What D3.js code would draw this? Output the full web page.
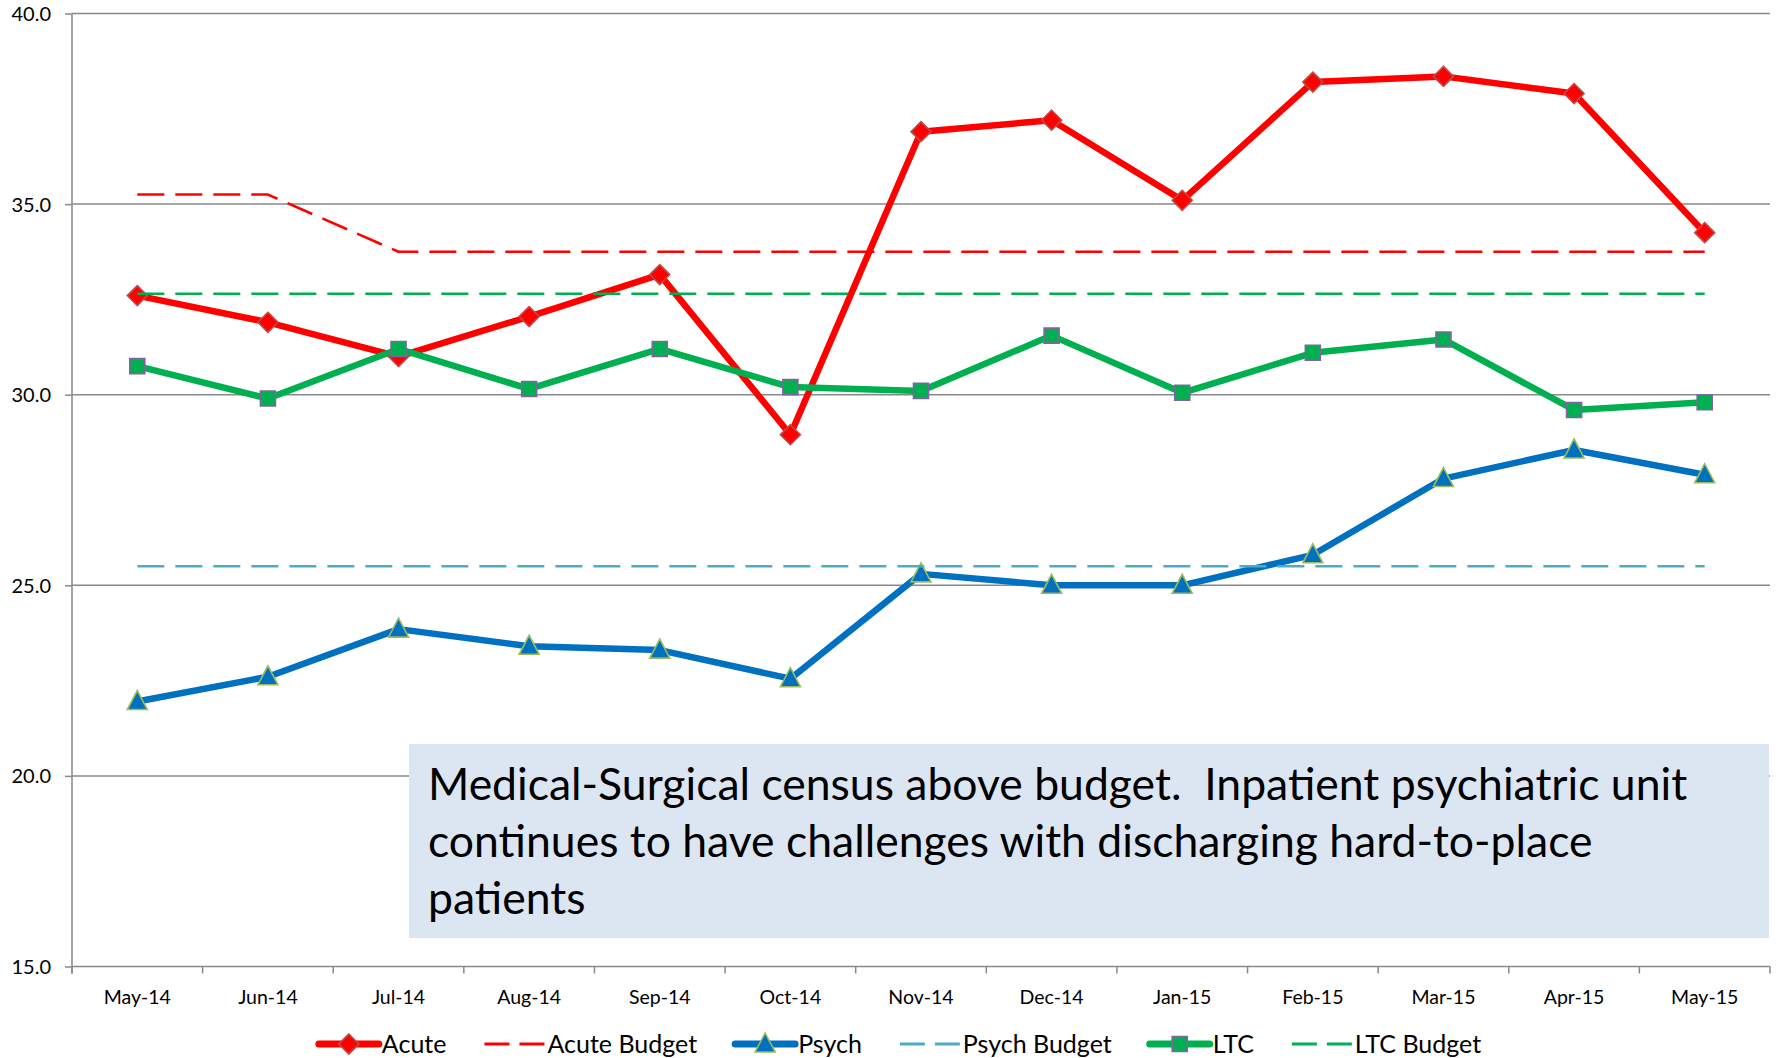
<!DOCTYPE html>
<html>
<head>
<meta charset="utf-8">
<script src="https://cdn.jsdelivr.net/npm/d3@7"></script>
<style>
  body { margin: 0; background: #fff; }
  svg { display: block; }
  text { font-family: Lato, "Open Sans", sans-serif; fill: #000; }
</style>
</head>
<body>
<svg id="chart" width="1776" height="1058"></svg>
<script>
'use strict';

// data
const months = ['May-14', 'Jun-14', 'Jul-14', 'Aug-14', 'Sep-14', 'Oct-14', 'Nov-14',
  'Dec-14', 'Jan-15', 'Feb-15', 'Mar-15', 'Apr-15', 'May-15'];
const acute = [32.6, 31.9, 31.0, 32.05, 33.15, 28.95, 36.9, 37.2, 35.1, 38.2, 38.35, 37.9, 34.25];
const acuteBudget = [35.25, 35.25, 33.75, 33.75, 33.75, 33.75, 33.75, 33.75, 33.75, 33.75, 33.75, 33.75, 33.75];
const psych = [21.95, 22.6, 23.85, 23.4, 23.3, 22.55, 25.3, 25.0, 25.0, 25.8, 27.8, 28.55, 27.9];
const psychBudget = [25.5, 25.5, 25.5, 25.5, 25.5, 25.5, 25.5, 25.5, 25.5, 25.5, 25.5, 25.5, 25.5];
const ltc = [30.75, 29.9, 31.2, 30.15, 31.2, 30.2, 30.1, 31.55, 30.05, 31.1, 31.45, 29.6, 29.8];
const ltcBudget = [32.65, 32.65, 32.65, 32.65, 32.65, 32.65, 32.65, 32.65, 32.65, 32.65, 32.65, 32.65, 32.65];
const yTicks = [15, 20, 25, 30, 35, 40];
const noteLines = [
  'Medical-Surgical census above budget.  Inpatient psychiatric unit',
  'continues to have challenges with discharging hard-to-place',
  'patients',
];

const series = [
  { name: 'Acute', values: acute, color: '#ff0000', width: 6.5, marker: 'diamond', fill: '#ff0000', stroke: '#be4b48' },
  { name: 'Acute Budget', values: acuteBudget, color: '#ff0000', width: 2.6, dash: '27,11' },
  { name: 'Psych', values: psych, color: '#0070c0', width: 6.5, marker: 'triangle', fill: '#0070c0', stroke: '#9bbb59' },
  { name: 'Psych Budget', values: psychBudget, color: '#4bacc6', width: 2.6, dash: '27,11' },
  { name: 'LTC', values: ltc, color: '#00b050', width: 6.5, marker: 'square', fill: '#00b050', stroke: '#8064a2' },
  { name: 'LTC Budget', values: ltcBudget, color: '#00b050', width: 2.6, dash: '27,11' },
];

const svg = d3.select('#chart');
const plotLeft = 72, plotRight = 1770, plotTop = 13.5, plotBottom = 966.5;

const x = d3.scaleBand().domain(months).range([plotLeft, plotRight]).padding(0);
const cx = (m) => x(m) + x.bandwidth() / 2;
const y = d3.scaleLinear().domain([15, 40]).range([plotBottom, plotTop]);

const gridColor = '#898989';

// horizontal gridlines
svg.append('g')
  .selectAll('line')
  .data(yTicks)
  .enter()
  .append('line')
  .attr('x1', plotLeft)
  .attr('x2', plotRight)
  .attr('y1', (d) => y(d))
  .attr('y2', (d) => y(d))
  .attr('stroke', gridColor)
  .attr('stroke-width', 1.5);

// y axis
const yAxis = svg.append('g')
  .attr('transform', `translate(${plotLeft},0)`)
  .call(d3.axisLeft(y).tickValues(yTicks).tickFormat(d3.format('.1f')).tickSize(7).tickPadding(14));
yAxis.select('.domain').attr('stroke', gridColor).attr('stroke-width', 1.5)
  .attr('d', `M0,${plotTop}V${plotBottom + 7}`);
yAxis.selectAll('.tick line').attr('stroke', gridColor).attr('stroke-width', 1.5);
yAxis.selectAll('.tick text').style('font-size', '20px').attr('dy', '0.35em');

// x axis: tick marks on band edges, labels at band centres
const edges = months.map((m) => x(m)).concat([plotRight]);
svg.append('g')
  .selectAll('line')
  .data(edges)
  .enter()
  .append('line')
  .attr('x1', (d) => d)
  .attr('x2', (d) => d)
  .attr('y1', plotBottom)
  .attr('y2', plotBottom + 7)
  .attr('stroke', gridColor)
  .attr('stroke-width', 1.5);

svg.append('g')
  .selectAll('text')
  .data(months)
  .enter()
  .append('text')
  .attr('x', cx)
  .attr('y', 1004)
  .attr('text-anchor', 'middle')
  .style('font-size', '19.5px')
  .text((d) => d);

const markerPath = (type) => {
  if (type === 'diamond') return 'M0,-10L10,0L0,10L-10,0Z';
  if (type === 'triangle') return 'M0,-11L10,8L-10,8Z';
  return 'M-7.5,-7.5H7.5V7.5H-7.5Z';
};

const line = d3.line().x((d) => cx(d.m)).y((d) => y(d.v));

series.forEach((s) => {
  const pts = s.values.map((v, i) => ({ m: months[i], v }));
  const g = svg.append('g');
  g.append('path')
    .datum(pts)
    .attr('d', line)
    .attr('fill', 'none')
    .attr('stroke', s.color)
    .attr('stroke-width', s.width)
    .attr('stroke-linejoin', 'round')
    .attr('stroke-dasharray', s.dash || null);
  if (s.marker) {
    g.selectAll('.mk')
      .data(pts)
      .enter()
      .append('path')
      .attr('class', 'mk')
      .attr('transform', (d) => `translate(${cx(d.m)},${y(d.v)})`)
      .attr('d', markerPath(s.marker))
      .attr('fill', s.fill)
      .attr('stroke', s.stroke)
      .attr('stroke-width', 1.6);
  }
});

// annotation text box
const box = svg.append('g');
box.append('rect')
  .attr('x', 409)
  .attr('y', 744)
  .attr('width', 1360)
  .attr('height', 194)
  .attr('fill', '#dce6f2');
const noteText = box.append('g')
  .selectAll('text')
  .data(noteLines)
  .enter()
  .append('text')
  .attr('x', 428)
  .attr('y', (d, i) => 800 + i * 57)
  .style('white-space', 'pre')
  .style('font-size', '40px')
  .text((d) => d);
// fit first line to its width in the picture
const w0 = noteText.nodes()[0].getComputedTextLength();
noteText.style('font-size', (40 * 1260 / w0).toFixed(1) + 'px');

// legend
const legend = svg.append('g');
const items = legend.selectAll('g')
  .data(series)
  .enter()
  .append('g');
items.append('line')
  .attr('x1', 0)
  .attr('x2', 60)
  .attr('y1', 0)
  .attr('y2', 0)
  .attr('stroke', (d) => d.color)
  .attr('stroke-width', (d) => (d.dash ? 3 : 7))
  .attr('stroke-linecap', (d) => (d.dash ? 'butt' : 'round'))
  .attr('stroke-dasharray', (d) => (d.dash ? '25,10' : null));
items.filter((d) => d.marker)
  .append('path')
  .attr('transform', 'translate(30,0)')
  .attr('d', (d) => markerPath(d.marker))
  .attr('fill', (d) => d.fill)
  .attr('stroke', (d) => d.stroke)
  .attr('stroke-width', 1.6);
items.append('text')
  .attr('x', 63)
  .attr('y', 9)
  .style('font-size', '25px')
  .text((d) => d.name);

let pos = 0;
const gap = 38;
const widths = items.nodes().map((n) => 63 + d3.select(n).select('text').node().getComputedTextLength());
const total = d3.sum(widths) + gap * (widths.length - 1);
const start = 900 - total / 2;
items.attr('transform', (d, i) => {
  const t = `translate(${start + pos},1044)`;
  pos += widths[i] + gap;
  return t;
});
</script>
</body>
</html>
